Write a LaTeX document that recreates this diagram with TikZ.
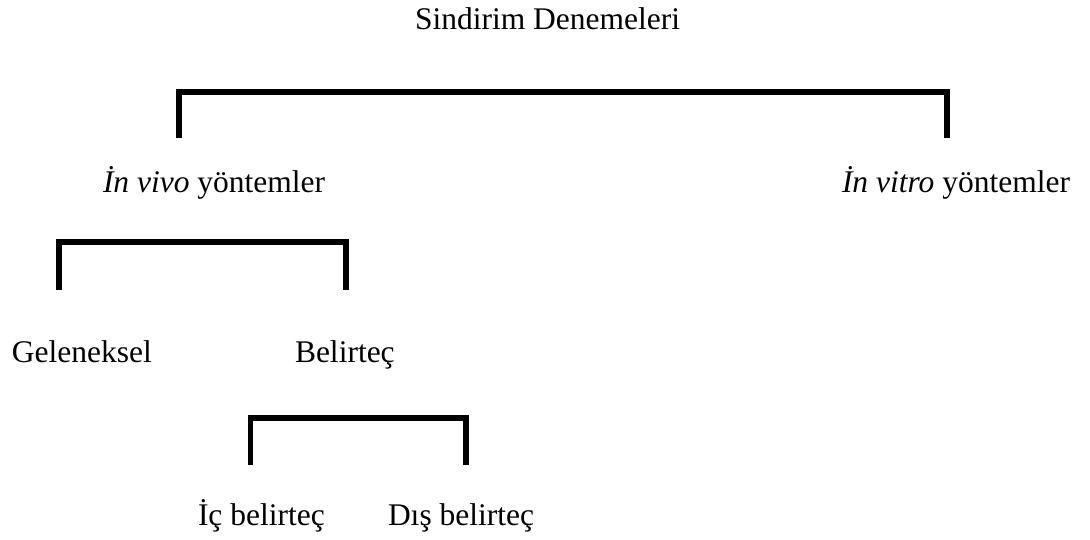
\documentclass[tikz,border=0pt]{standalone}
\usepackage{fontspec}
\setmainfont{Liberation Serif}
\begin{document}
\begin{tikzpicture}[x=1pt,y=-1pt,
  lbl/.style={anchor=base west,inner sep=0pt,outer sep=0pt,
    font=\fontsize{31.5}{36}\selectfont},
  bracket/.style={line width=5.5pt,line join=miter,line cap=butt}]
\useasboundingbox (0,0) rectangle (1090,540);

% labels
\node[lbl] (root) at (415,30) {Sindirim Denemeleri};
\node[lbl] (vivo) at (103,193) {\textit{İn vivo} yöntemler};
\node[lbl] (vitro) at (842,193) {\textit{İn vitro} yöntemler};
\node[lbl] (gel) at (12,362) {Geleneksel};
\node[lbl] (bel) at (295,362) {Belirteç};
\node[lbl] (ic) at (198,525) {İç belirteç};
\node[lbl] (dis) at (388,525) {Dış belirteç};

% bracket end points
\coordinate (b1l) at (179,138); \coordinate (b1r) at (947,138);
\coordinate (b2l) at (59,290);  \coordinate (b2r) at (346,290);
\coordinate (b3l) at (250.5,465); \coordinate (b3r) at (466,465);

% brackets joining each parent to its children
\draw[bracket] (b1l) -- ++(0,-46) -| (b1r);
\draw[bracket] (b2l) -- ++(0,-48) -| (b2r);
\draw[bracket] (b3l) -- ++(0,-47) -| (b3r);
\end{tikzpicture}
\end{document}
